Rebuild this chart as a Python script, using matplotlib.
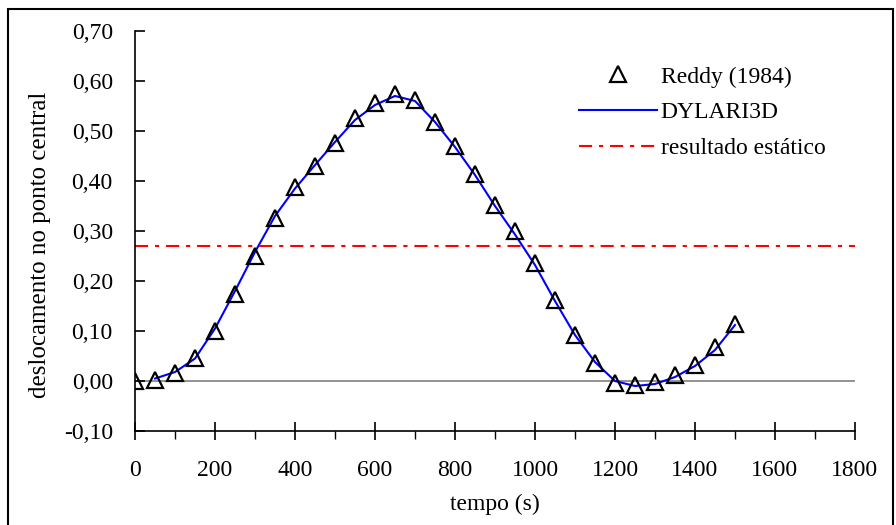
import matplotlib
matplotlib.use("Agg")
import matplotlib.pyplot as plt
from matplotlib.patches import Rectangle
from matplotlib.ticker import MultipleLocator, FuncFormatter

plt.rcParams['font.family'] = ['Liberation Serif', 'DejaVu Serif']

# Reddy (1984) points
t_reddy = [0, 50, 100, 150, 200, 250, 300, 350, 400, 450, 500, 550, 600, 650, 700, 750,
           800, 850, 900, 950, 1000, 1050, 1100, 1150, 1200, 1250, 1300, 1350, 1400, 1450, 1500]
u_reddy = [0.000, 0.002, 0.016, 0.046, 0.100, 0.175, 0.250, 0.326, 0.387, 0.430, 0.476,
           0.525, 0.555, 0.574, 0.562, 0.517, 0.470, 0.413, 0.352, 0.300, 0.237, 0.163,
           0.093, 0.037, -0.004, -0.008, -0.001, 0.012, 0.032, 0.068, 0.115]

# DYLARI3D curve
t_dyl = [50, 100, 150, 200, 250, 300, 350, 400, 450, 500, 550, 600, 650, 700, 750,
         800, 850, 900, 950, 1000, 1050, 1100, 1150, 1200, 1250, 1300, 1350, 1400, 1450, 1500]
u_dyl = [0.005, 0.018, 0.045, 0.105, 0.180, 0.258, 0.330, 0.385, 0.432, 0.478, 0.522,
         0.552, 0.570, 0.560, 0.518, 0.468, 0.412, 0.350, 0.293, 0.232, 0.160, 0.092,
         0.038, 0.000, -0.010, -0.006, 0.008, 0.030, 0.062, 0.112]

static_value = 0.27

fig = plt.figure(figsize=(8.96, 5.25), dpi=100)
ax = fig.add_axes([0.1507, 0.179, 0.8035, 0.762])

ax.axhline(0, color='#808080', lw=1.2, zorder=1)
ax.plot(t_reddy, u_reddy, linestyle='none', marker='^', markersize=11,
        markerfacecolor='none', markeredgecolor='black', markeredgewidth=1.6,
        label='Reddy (1984)', zorder=3)
ax.plot(t_dyl, u_dyl, color='#0000ff', lw=1.5, label='DYLARI3D', zorder=2)
ax.plot([0, 1800], [static_value, static_value], color='red', lw=1.5,
        dashes=(6.3, 3.3, 2, 3.3), label='resultado estático', zorder=2)

ax.set_xlim(0, 1800)
ax.set_ylim(-0.10, 0.70)
ax.xaxis.set_major_locator(MultipleLocator(200))
ax.xaxis.set_minor_locator(MultipleLocator(100))
ax.yaxis.set_major_locator(MultipleLocator(0.1))
ax.yaxis.set_major_formatter(FuncFormatter(lambda v, p: f"{v:.2f}".replace('.', ',')))

for s in ['top', 'right']:
    ax.spines[s].set_visible(False)
ax.spines['left'].set_linewidth(1.2)
ax.spines['bottom'].set_linewidth(1.2)

ax.tick_params(axis='x', which='major', direction='inout', length=13, width=1.2,
               labelsize=17, pad=14.5)
ax.tick_params(axis='x', which='minor', direction='out', length=6, width=1.0)
ax.tick_params(axis='y', which='major', direction='in', length=7, width=1.2,
               labelsize=17, pad=16)

ax.set_xlabel('tempo (s)', fontsize=17, labelpad=9)
ax.set_ylabel('deslocamento no ponto central', fontsize=18, labelpad=9)
ax.yaxis.label.set_y(0.465)

leg = ax.legend(loc='upper left', bbox_to_anchor=(0.5875, 0.965), frameon=False,
                fontsize=17, handlelength=3.3, handletextpad=0.15, labelspacing=0.6)

fig.patches.append(Rectangle((0.009, -0.01), 0.988, 0.992, transform=fig.transFigure,
                             fill=False, edgecolor='black', lw=1.5))

fig.savefig('out.png', dpi=100)
